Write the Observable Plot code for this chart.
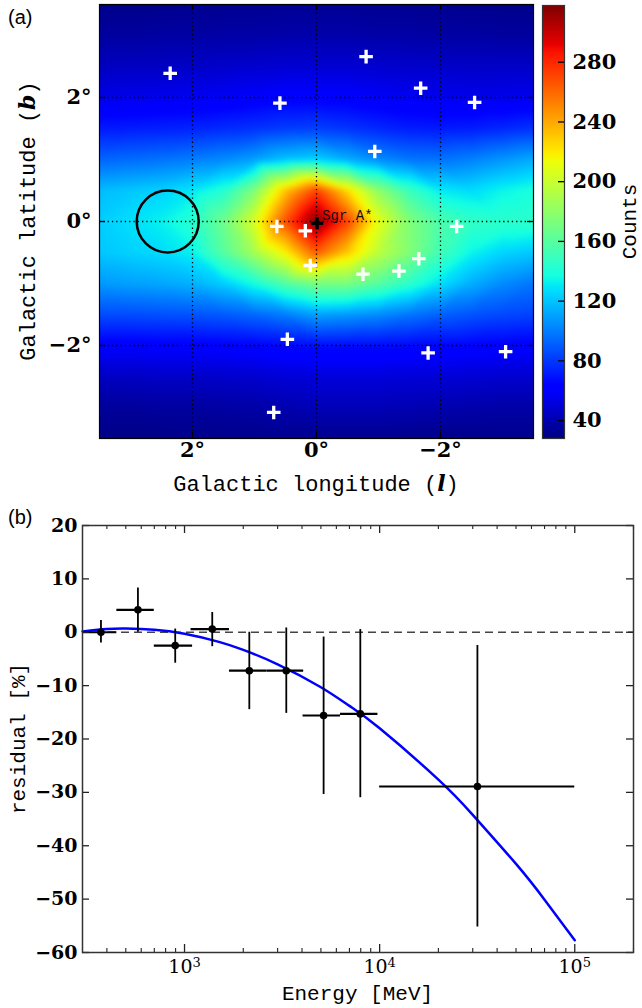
<!DOCTYPE html>
<html><head><meta charset="utf-8">
<script src="https://cdn.jsdelivr.net/npm/d3@7"></script>
<script src="https://cdn.jsdelivr.net/npm/@observablehq/plot@0.6"></script>
<style>
body{margin:0;background:#fff;}
#wrap{position:relative;width:642px;height:1008px;overflow:hidden;background:#fff;}
#wrap svg{position:absolute;}
.panel{position:absolute;font-family:"Liberation Sans",Arial,sans-serif;font-size:20px;color:#000;}
</style></head><body><div id="wrap"></div>
<script>
// ---------------- DATA ----------------
// Panel (a): counts map, rows b = 3.5 ... -3.5 (0.5° step), columns l = 3.5 ... -3.5
const countsGrid = [
  [31,31,31,32,32,32,33,33,33,32,32,32,31,31,31],
  [36,36,37,37,38,38,39,39,39,38,38,37,37,36,36],
  [44,45,45,46,47,48,49,49,49,48,47,47,46,46,46],
  [54,55,56,57,58,60,62,62,61,59,57,56,55,55,56],
  [71,72,73,74,76,78,81,82,79,75,72,71,72,75,78],
  [93,95,97,100,104,110,120,124,114,104,98,97,101,107,113],
  [118,121,124,130,142,175,232,272,225,180,150,131,127,134,139],
  [123,128,133,143,168,206,268,318,272,210,175,156,147,145,145],
  [121,124,127,133,160,188,218,264,230,196,175,152,134,125,121],
  [108,110,112,115,123,138,158,172,172,160,145,128,114,104,98],
  [86,86,87,88,90,94,100,110,108,104,98,92,88,85,83],
  [61,61,62,62,63,64,66,68,67,67,66,65,64,63,62],
  [45,45,46,46,47,48,50,51,51,51,50,50,49,48,48],
  [35,35,36,36,37,38,40,42,42,42,41,40,39,38,38],
  [30,30,30,31,31,31,32,32,32,32,31,31,31,31,31]
];
const lonExtent = [3.5, -3.5], latExtent = [-3.5, 3.5];
const lonTicks = [2, 0, -2];
const latTicks = [2, 0, -2];
const sourceL = [2.36, 0.59, 0.64, 0.18, -0.80, -1.68, -2.55, -0.94, -2.26, 0.10, 0.47, 0.69, -0.75, -1.33, -1.65, -1.80, -3.05];
const sourceB = [2.39, 1.91, -0.08, -0.15, 2.66, 2.15, 1.92, 1.13, -0.08, -0.71, -1.90, -3.08, -0.85, -0.80, -0.60, -2.12, -2.10];
const sgrL = [-0.01], sgrB = [-0.03], sgrName = ["Sgr A*"];
const roiL = [2.4], roiB = [0], roiRadiusDeg = 0.5;
const countDomain = [28, 318];
const countTicks = [40, 80, 120, 160, 200, 240, 280];

// Panel (b): residuals
const energy   = [373, 577, 896, 1387, 2148, 3323, 5162, 7960, 31700];
const energyLo = [300, 450, 700, 1080, 1700, 2650, 4050, 6300, 10000];
const energyHi = [450, 700, 1100, 1700, 2650, 4080, 6300, 9800, 100000];
const residual   = [0.0, 4.2, -2.5, 0.6, -7.2, -7.2, -15.6, -15.3, -28.9];
const residualLo = [-2.0, 0.0, -5.8, -2.7, -14.5, -15.2, -30.4, -31.0, -55.2];
const residualHi = [2.2, 8.3, 0.6, 3.7, 0.0, 0.8, -0.9, 0.5, -2.5];
const curveE = [300, 400, 500, 700, 1000, 1500, 2000, 3000, 5000, 7000, 10000, 20000, 30000, 50000, 70000, 100000];
const curveR = [0.15, 0.6, 0.7, 0.47, -0.3, -1.8, -3.3, -6.0, -10.3, -13.8, -18.0, -27.6, -34.2, -43.4, -50.1, -57.7];
const energyDomain = [300, 2e5], residualDomain = [-60, 20];
const energyMajor = [1e3, 1e4, 1e5];
const energyMinor = [400,500,600,700,800,900,2000,3000,4000,5000,6000,7000,8000,9000,20000,30000,40000,50000,60000,70000,80000,90000,200000];
const residualTicks = [20, 10, 0, -10, -20, -30, -40, -50, -60];

// ---------------- STYLE ----------------
const SERIF = '"DejaVu Serif", serif';
const MONO = '"Liberation Mono", "DejaVu Sans Mono", monospace';
const jetR = [[0,0],[0.35,0],[0.66,1],[0.89,1],[1,0.5]];
const jetG = [[0,0],[0.125,0],[0.375,1],[0.64,1],[0.91,0],[1,0]];
const jetB = [[0,0.5],[0.11,1],[0.34,1],[0.65,0],[1,0]];
function seg(stops, t) {
  t = Math.max(0, Math.min(1, t));
  for (let i = 1; i < stops.length; i++) {
    const [t0, v0] = stops[i-1], [t1, v1] = stops[i];
    if (t <= t1) return v0 + (v1 - v0) * (t - t0) / (t1 - t0);
  }
  return stops[stops.length-1][1];
}
function jet(t) {
  return `rgb(${Math.round(255*seg(jetR,t))},${Math.round(255*seg(jetG,t))},${Math.round(255*seg(jetB,t))})`;
}
const plusSymbol = {draw(ctx, size) { const r = Math.sqrt(size / Math.PI); ctx.moveTo(-r, 0); ctx.lineTo(r, 0); ctx.moveTo(0, -r); ctx.lineTo(0, r); }};
const degFmt = d => (d < 0 ? "\u2212" : "") + Math.abs(d) + "\u00b0";
const powFmt = d => "10^" + Math.round(Math.log10(d));

const wrap = document.getElementById("wrap");

// ---------------- PANEL A ----------------
const W = 642, HA = 500;
const mA = {top: 4, right: 109, bottom: 62, left: 99};
const pwA = W - mA.left - mA.right, phA = HA - mA.top - mA.bottom;
const pxPerDeg = pwA / Math.abs(lonExtent[1] - lonExtent[0]);
const nRows = countsGrid.length, nCols = countsGrid[0].length;
const samples = [];
countsGrid.forEach((row, r) => row.forEach((v, c) => samples.push({
  l: lonExtent[0] + (lonExtent[1] - lonExtent[0]) * c / (nCols - 1),
  b: latExtent[1] + (latExtent[0] - latExtent[1]) * r / (nRows - 1),
  v
})));
const sources = sourceL.map((l, i) => ({l, b: sourceB[i]}));
const sgr = sgrL.map((l, i) => ({l, b: sgrB[i], name: sgrName[i]}));
const roi = roiL.map((l, i) => ({l, b: roiB[i]}));

const chartA = Plot.plot({
  width: W, height: HA,
  marginTop: mA.top, marginRight: mA.right, marginBottom: mA.bottom, marginLeft: mA.left,
  x: {domain: lonExtent}, y: {domain: latExtent},
  color: {type: "linear", domain: countDomain, interpolate: jet},
  style: {fontFamily: SERIF, fontSize: "20px", color: "black", background: "transparent", overflow: "visible"},
  marks: [
    Plot.raster(samples, {x: "l", y: "b", fill: "v", interpolate: "barycentric", pixelSize: 1, blur: 2}),
    Plot.ruleX(lonTicks, {x: d => d, stroke: "black", strokeWidth: 1.3, strokeDasharray: "1.3,3"}),
    Plot.ruleY(latTicks, {y: d => d, stroke: "black", strokeWidth: 1.3, strokeDasharray: "1.3,3"}),
    Plot.tickX(lonTicks, {x: d => d, insetTop: phA - 6, stroke: "black", strokeWidth: 1.3}),
    Plot.tickX(lonTicks, {x: d => d, insetBottom: phA - 6, stroke: "black", strokeWidth: 1.3}),
    Plot.tickY(latTicks, {y: d => d, insetRight: pwA - 6, stroke: "black", strokeWidth: 1.3}),
    Plot.tickY(latTicks, {y: d => d, insetLeft: pwA - 6, stroke: "black", strokeWidth: 1.3}),
    Plot.dot(roi, {x: "l", y: "b", r: roiRadiusDeg * pxPerDeg, stroke: "black", strokeWidth: 2.5, fill: "none"}),
    Plot.dot(sources, {x: "l", y: "b", symbol: plusSymbol, r: 6.8, stroke: "white", strokeWidth: 3.3, fill: "none"}),
    Plot.dot(sgr, {x: "l", y: "b", symbol: plusSymbol, r: 6, stroke: "black", strokeWidth: 3.4, fill: "none"}),
    Plot.text(sgr, {x: "l", y: "b", text: "name", dx: 5, dy: -8, textAnchor: "start", fontFamily: MONO, fontSize: 14, fill: "#111"}),
    Plot.axisX({ticks: lonTicks, tickSize: 0, tickPadding: 4, tickFormat: degFmt, label: null, fontWeight: "bold", fontSize: 21}),
    Plot.axisY({ticks: latTicks, tickSize: 0, tickPadding: 8, tickFormat: degFmt, label: null, fontWeight: "bold", fontSize: 21}),
    Plot.frame({stroke: "black", strokeWidth: 1.2})
  ]
});
chartA.style.left = "0px"; chartA.style.top = "0px";
wrap.appendChild(chartA);
{
  const s = d3.select(chartA);
  const t1 = s.append("text").attr("x", mA.left + pwA / 2).attr("y", 491).attr("text-anchor", "middle")
    .attr("font-family", MONO).attr("font-size", 22).attr("fill", "black");
  t1.append("tspan").text("Galactic longitude (");
  t1.append("tspan").attr("font-family", SERIF).attr("font-style", "italic").attr("font-weight", "bold").text("l");
  t1.append("tspan").text(")");
  const t2 = s.append("text").attr("transform", `translate(35,${mA.top + phA / 2}) rotate(-90)`).attr("text-anchor", "middle")
    .attr("font-family", MONO).attr("font-size", 22).attr("fill", "black");
  t2.append("tspan").text("Galactic latitude (");
  t2.append("tspan").attr("font-family", SERIF).attr("font-style", "italic").attr("font-weight", "bold").text("b");
  t2.append("tspan").text(")");
}

// ---------------- COLORBAR ----------------
const CL = 536, CW = 106;
const chartC = Plot.plot({
  width: CW, height: HA,
  marginTop: 5, marginBottom: mA.bottom, marginLeft: 6, marginRight: CW - 6 - 22,
  x: {domain: [0, 1], axis: null}, y: {domain: countDomain},
  color: {type: "linear", domain: countDomain, interpolate: jet},
  style: {fontFamily: SERIF, fontSize: "20px", color: "black", background: "transparent", overflow: "visible"},
  marks: [
    Plot.raster({x1: 0, x2: 1, y1: countDomain[0], y2: countDomain[1], fill: (x, y) => y, pixelSize: 1}),
    Plot.tickY(countTicks, {y: d => d, insetLeft: 22 - 6, stroke: "black", strokeWidth: 1.3}),
    Plot.axisY({anchor: "right", ticks: countTicks, tickSize: 0, tickPadding: 8, label: null, fontWeight: "bold", fontSize: 21}),
    Plot.frame({stroke: "#333", strokeWidth: 1.2})
  ]
});
chartC.style.left = CL + "px"; chartC.style.top = "0px";
wrap.appendChild(chartC);
d3.select(chartC).append("text").attr("transform", `translate(${636 - CL},${5 + (HA - 5 - mA.bottom) / 2}) rotate(-90)`)
  .attr("text-anchor", "middle").attr("font-family", MONO).attr("font-size", 21).attr("fill", "black").text("Counts");

// ---------------- PANEL B ----------------
const HB = 508, TOPB = 500;
const mB = {top: 25, right: 9, bottom: 56, left: 82};
const pwB = W - mB.left - mB.right, phB = HB - mB.top - mB.bottom;
const pts = energy.map((e, i) => ({e, elo: energyLo[i], ehi: energyHi[i], r: residual[i], lo: residualLo[i], hi: residualHi[i]}));
const curve = curveE.map((e, i) => ({e, r: curveR[i]}));

const chartB = Plot.plot({
  width: W, height: HB,
  marginTop: mB.top, marginRight: mB.right, marginBottom: mB.bottom, marginLeft: mB.left,
  x: {type: "log", domain: energyDomain}, y: {domain: residualDomain},
  style: {fontFamily: SERIF, fontSize: "18px", color: "black", background: "transparent", overflow: "visible"},
  marks: [
    Plot.ruleY([0], {stroke: "#444", strokeWidth: 1.3, strokeDasharray: "8,5"}),
    Plot.line(curve, {x: "e", y: "r", stroke: "#0000ff", strokeWidth: 2.5, curve: "natural"}),
    Plot.ruleX(pts, {x: "e", y1: "lo", y2: "hi", stroke: "black", strokeWidth: 1.8}),
    Plot.ruleY(pts, {y: "r", x1: "elo", x2: "ehi", stroke: "black", strokeWidth: 2.2}),
    Plot.dot(pts, {x: "e", y: "r", r: 3.8, fill: "black"}),
    Plot.tickX(energyMajor, {x: d => d, insetTop: phB - 8, stroke: "#222", strokeWidth: 1.3}),
    Plot.tickX(energyMajor, {x: d => d, insetBottom: phB - 8, stroke: "#222", strokeWidth: 1.3}),
    Plot.tickX(energyMinor, {x: d => d, insetTop: phB - 4, stroke: "#222", strokeWidth: 1.1}),
    Plot.tickX(energyMinor, {x: d => d, insetBottom: phB - 4, stroke: "#222", strokeWidth: 1.1}),
    Plot.tickY(residualTicks, {y: d => d, insetRight: pwB - 7, stroke: "#222", strokeWidth: 1.3}),
    Plot.tickY(residualTicks, {y: d => d, insetLeft: pwB - 7, stroke: "#222", strokeWidth: 1.3}),
    Plot.axisX({ticks: energyMajor, tickSize: 0, tickPadding: 7, tickFormat: powFmt, label: null, fontSize: 19}),
    Plot.axisY({ticks: residualTicks, tickSize: 0, tickPadding: 5, label: null, fontWeight: "bold", fontSize: 19}),
    Plot.frame({stroke: "#333", strokeWidth: 1.5})
  ]
});
chartB.style.left = "0px"; chartB.style.top = TOPB + "px";
wrap.appendChild(chartB);
{
  const s = d3.select(chartB);
  // render "10^k" tick labels with a raised exponent
  s.selectAll("text").each(function() {
    const el = d3.select(this);
    if (this.childElementCount) return;
    const m = /^10\^(\d)$/.exec(this.textContent);
    if (!m) return;
    el.text(null);
    el.append("tspan").text("10");
    el.append("tspan").attr("dy", "-0.45em").attr("font-size", 13).text(m[1]);
  });
  s.append("text").attr("x", mB.left + pwB / 2).attr("y", 500).attr("text-anchor", "middle")
    .attr("font-family", MONO).attr("font-size", 21).attr("fill", "black").text("Energy [MeV]");
  s.append("text").attr("transform", `translate(25,${mB.top + phB / 2}) rotate(-90)`).attr("text-anchor", "middle")
    .attr("font-family", MONO).attr("font-size", 21).attr("fill", "black").text("residual [%]");
}

// panel tags
for (const [txt, top] of [["(a)", 6], ["(b)", 506]]) {
  const d = document.createElement("div");
  d.className = "panel"; d.textContent = txt;
  d.style.left = "8px"; d.style.top = top + "px";
  wrap.appendChild(d);
}
</script></body></html>
